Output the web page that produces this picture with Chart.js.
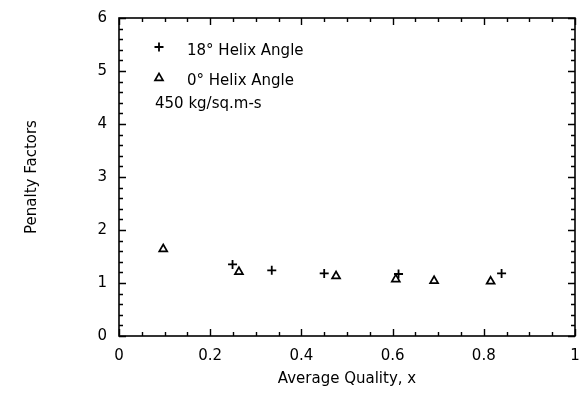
<!DOCTYPE html>
<html>
<head>
<meta charset="utf-8">
<script src="https://cdn.jsdelivr.net/npm/chart.js@4/dist/chart.umd.min.js"></script>
<style>
html,body{margin:0;padding:0;background:#fff;}
#wrap{width:587px;height:406px;position:relative;}
</style>
</head>
<body>
<div id="wrap"><canvas id="c" width="587" height="406"></canvas></div>
<script>
// ---- data ----
const helix18X = [0.249, 0.335, 0.450, 0.613, 0.839];
const helix18Y = [1.35, 1.24, 1.18, 1.17, 1.18];
const helix0X  = [0.097, 0.263, 0.476, 0.607, 0.691, 0.815];
const helix0Y  = [1.64, 1.21, 1.13, 1.07, 1.04, 1.03];
const seriesLabels = ['18° Helix Angle', '0° Helix Angle'];
const noteText = '450 kg/sq.m-s';
const xTitle = 'Average Quality, x';
const yTitle = 'Penalty Factors';
const xRange = [0, 1], xMajor = 0.2, xMinor = 0.05;
const yRange = [0, 6], yMajor = 1, yMinor = 0.2;

const FONT = 'DejaVu Sans';
const FSIZE = 15;
const pts = (xs, ys) => xs.map((x, i) => ({x, y: ys[i]}));

function drawMarker(ctx, style, x, y, r) {
  ctx.save();
  ctx.strokeStyle = '#000';
  ctx.lineWidth = style === 'cross' ? 1.8 : 1.7;
  ctx.beginPath();
  if (style === 'cross') {
    ctx.moveTo(x - r, y); ctx.lineTo(x + r, y);
    ctx.moveTo(x, y - r); ctx.lineTo(x, y + r);
  } else {
    const h = Math.sqrt(3) / 2 * r;
    ctx.moveTo(x, y - r);
    ctx.lineTo(x + h, y + r / 2);
    ctx.lineTo(x - h, y + r / 2);
    ctx.closePath();
  }
  ctx.stroke();
  ctx.restore();
}

const framePlugin = {
  id: 'frame',
  afterDatasetsDraw(chart) {
    const {ctx, chartArea: a, scales: {x, y}} = chart;
    ctx.save();
    ctx.strokeStyle = '#000';
    ctx.lineWidth = 1.6;
    ctx.strokeRect(a.left, a.top, a.right - a.left, a.bottom - a.top);
    ctx.lineWidth = 1.4;
    ctx.beginPath();
    const eps = 1e-9;
    for (let v = xRange[0]; v <= xRange[1] + eps; v += xMinor) {
      const isMajor = Math.abs(v / xMajor - Math.round(v / xMajor)) < 1e-6;
      const len = isMajor ? 7 : 4;
      const px = Math.round(x.getPixelForValue(v)) + 0.5;
      ctx.moveTo(px, a.bottom); ctx.lineTo(px, a.bottom - len);
      ctx.moveTo(px, a.top); ctx.lineTo(px, a.top + len);
    }
    for (let v = yRange[0]; v <= yRange[1] + eps; v += yMinor) {
      const isMajor = Math.abs(v / yMajor - Math.round(v / yMajor)) < 1e-6;
      const len = isMajor ? 7 : 4;
      const py = Math.round(y.getPixelForValue(v)) + 0.5;
      ctx.moveTo(a.left, py); ctx.lineTo(a.left + len, py);
      ctx.moveTo(a.right, py); ctx.lineTo(a.right - len, py);
    }
    ctx.stroke();

    // legend / annotation
    ctx.fillStyle = '#000';
    ctx.font = FSIZE + 'px "' + FONT + '"';
    ctx.textBaseline = 'middle';
    ctx.textAlign = 'left';
    drawMarker(ctx, 'cross', 159, 47, 4.5);
    ctx.fillText(seriesLabels[0], 187, 51);
    drawMarker(ctx, 'triangle', 159, 78, 4.6);
    ctx.fillText(seriesLabels[1], 187, 81);
    ctx.fillText(noteText, 155, 104);
    ctx.restore();
  }
};

const fmt = v => String(Math.round(v * 100) / 100);
function zeroPad(s) { s.paddingLeft = 0; s.paddingRight = 0; s.paddingTop = 0; s.paddingBottom = 0; }

new Chart(document.getElementById('c'), {
  type: 'scatter',
  data: {
    datasets: [
      {
        label: seriesLabels[0],
        data: pts(helix18X, helix18Y),
        pointStyle: 'cross',
        pointRadius: 4.5,
        pointBorderWidth: 1.8,
        borderColor: '#000',
        backgroundColor: '#000'
      },
      {
        label: seriesLabels[1],
        data: pts(helix0X, helix0Y),
        pointStyle: 'triangle',
        pointRadius: 4.6,
        pointBorderWidth: 1.7,
        borderColor: '#000',
        backgroundColor: 'rgba(0,0,0,0)'
      }
    ]
  },
  options: {
    responsive: false,
    animation: false,
    devicePixelRatio: 1,
    layout: {padding: {left: 0, right: 12, top: 18, bottom: 0}},
    plugins: {legend: {display: false}, tooltip: {enabled: false}},
    scales: {
      x: {
        type: 'linear', min: xRange[0], max: xRange[1],
        grid: {display: false, drawTicks: false},
        border: {display: false},
        ticks: {stepSize: xMajor, color: '#000', padding: 11,
                font: {family: FONT, size: FSIZE}, maxRotation: 0,
                callback: fmt},
        title: {display: true, text: xTitle, color: '#000',
                font: {family: FONT, size: FSIZE}, padding: {top: 0, bottom: 18}},
        afterFit(s) { s.height = 70; zeroPad(s); }
      },
      y: {
        type: 'linear', min: yRange[0], max: yRange[1],
        grid: {display: false, drawTicks: false},
        border: {display: false},
        ticks: {stepSize: yMajor, color: '#000', padding: 12,
                font: {family: FONT, size: FSIZE}, callback: fmt},
        title: {display: true, text: yTitle, color: '#000',
                font: {family: FONT, size: FSIZE}, padding: {top: 23, bottom: 0}},
        afterFit(s) { s.width = 119; zeroPad(s); }
      }
    }
  },
  plugins: [framePlugin]
});
</script>
</body>
</html>
